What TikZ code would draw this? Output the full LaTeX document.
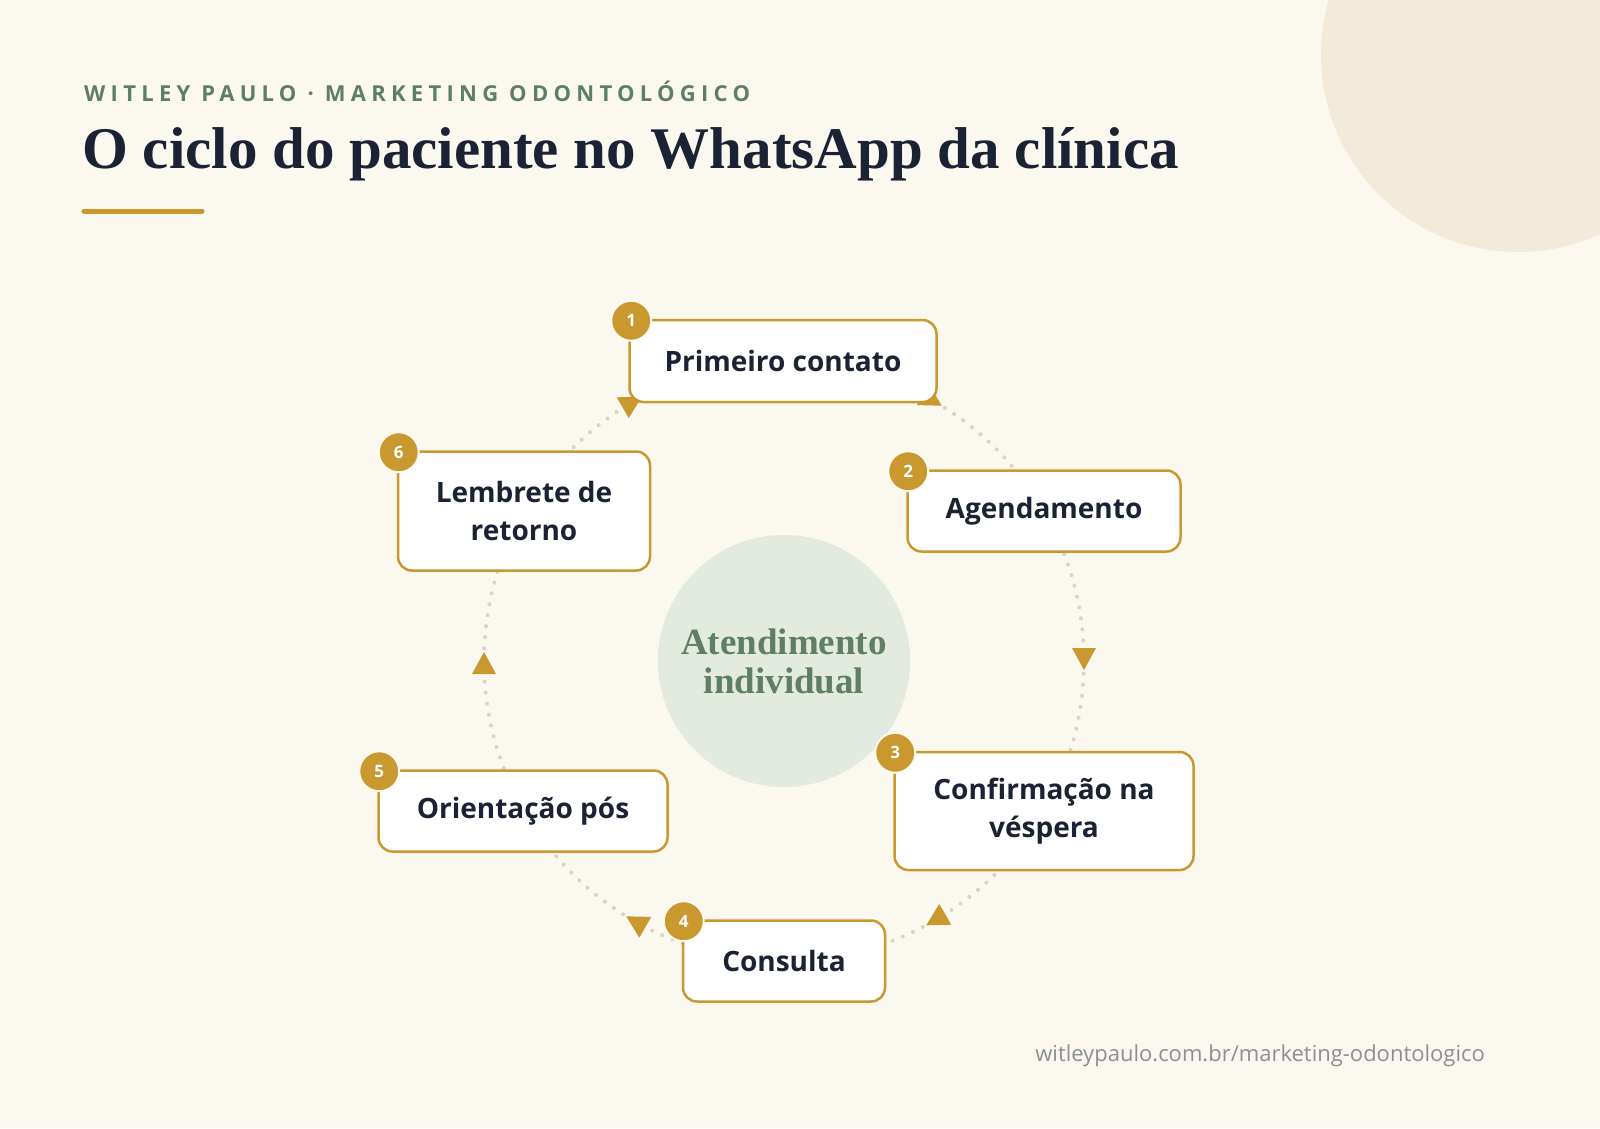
\documentclass[tikz,border=0pt]{standalone}
\usepackage{fontspec}
\setmainfont{Liberation Serif}
\setsansfont{Open Sans}
\usetikzlibrary{decorations.markings,arrows.meta}
\definecolor{bg}{HTML}{FBF8F0}
\definecolor{gold}{HTML}{C9982E}
\definecolor{ink}{HTML}{1B2233}
\definecolor{sage}{HTML}{5E7F63}
\definecolor{sagebg}{HTML}{E3EADF}
\definecolor{blob}{HTML}{F3EBDA}
\definecolor{dotc}{HTML}{DDD4BC}
\definecolor{foot}{HTML}{8A8F99}
\tikzset{
 stage/.style={draw=gold,line width=2.5pt,fill=white,rounded corners=14pt,align=center,
   font=\sffamily\bfseries\fontsize{28}{38}\selectfont,text=ink,inner sep=0pt},
 badge/.style={circle,fill=gold,draw=bg,line width=2pt,minimum size=40pt,inner sep=0pt,
   text=white,font=\sffamily\bfseries\fontsize{17}{17}\selectfont},
 cyc/.style={dotc,line width=4pt,dash pattern=on 0.1pt off 11pt,line cap=round,
   postaction={decorate},decoration={markings,mark=at position 0.5 with
   {\fill[gold] (-9pt,0)--(13pt,12pt)--(13pt,-12pt)--cycle;}}}
}
\begin{document}
\begin{tikzpicture}[x=1pt,y=-1pt]
\useasboundingbox (0,0) rectangle (1600,1128);
\fill[bg] (0,0) rectangle (1600,1128);
\begin{scope}
\clip (0,0) rectangle (1600,1128);
\fill[blob] (1518,55) circle (197);
\end{scope}
\node[anchor=base west,text=sage,inner sep=0pt,font=\sffamily\bfseries\fontsize{22}{22}\selectfont\addfontfeatures{LetterSpace=24}] (hdr) at (84,101) {WITLEY PAULO · MARKETING ODONTOLÓGICO};
\node[anchor=base west,text=ink,inner sep=0pt,font=\bfseries\fontsize{59}{59}\selectfont] (ttl) at (82,168) {O ciclo do paciente no WhatsApp da clínica};
\draw[gold,line width=5pt,line cap=round] (84,211) -- (202,211);
% cycle
\coordinate (c) at (784,661);
\foreach \a in {90,30,-30,-90,-150,150}
  \draw[cyc] (c) ++(\a:300) arc[start angle=\a,end angle=\a-60,radius=300];
\node[circle,fill=sagebg,minimum size=252pt,inner sep=0pt,align=center,text=sage,
  font=\bfseries\fontsize{37}{39}\selectfont] (mid) at (784,661) {Atendimento\\individual};
\node[stage,minimum width=307pt,minimum height=82pt] (n1) at (783,361) {Primeiro contato};
\node[stage,minimum width=273pt,minimum height=81pt] (n2) at (1044,511) {Agendamento};
\node[stage,minimum width=299pt,minimum height=118pt] (n3) at (1044,811) {Confirmação na\\véspera};
\node[stage,minimum width=202pt,minimum height=81pt] (n4) at (784,961) {Consulta};
\node[stage,minimum width=289pt,minimum height=81pt] (n5) at (523,811) {Orientação pós};
\node[stage,minimum width=252pt,minimum height=119pt] (n6) at (524,511) {Lembrete de\\retorno};
\node[badge] (b1) at (n1.north west) [xshift=3pt,yshift=-2pt] {1};
\node[badge] (b2) at (n2.north west) [xshift=2pt,yshift=-2pt] {2};
\node[badge] (b3) at (n3.north west) [xshift=2pt,yshift=-2pt] {3};
\node[badge] (b4) at (n4.north west) [xshift=2pt,yshift=-2pt] {4};
\node[badge] (b5) at (n5.north west) [xshift=2pt,yshift=-2pt] {5};
\node[badge] (b6) at (n6.north west) [xshift=2pt,yshift=-2pt] {6};
\node[anchor=base east,text=foot,inner sep=0pt,font=\sffamily\fontsize{22}{22}\selectfont] (url) at (1485,1061) {witleypaulo.com.br/marketing-odontologico};
\end{tikzpicture}
\end{document}
